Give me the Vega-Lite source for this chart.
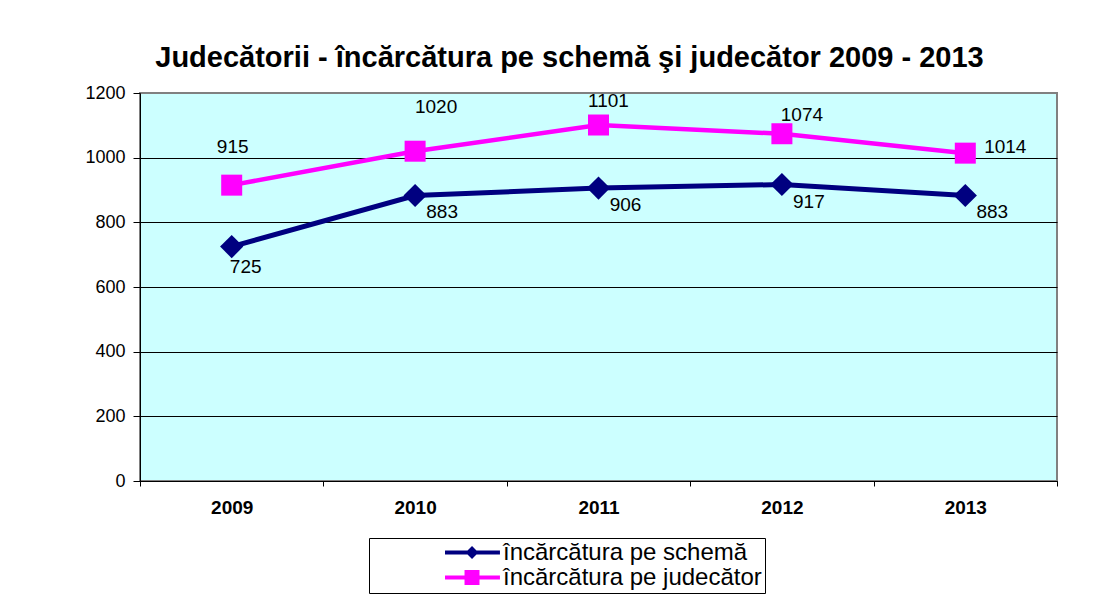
{
  "$schema": "https://vega.github.io/schema/vega-lite/v6.json",
  "autosize": "none",
  "width": 917,
  "height": 388,
  "padding": {"left": 140, "top": 93, "right": 58, "bottom": 117},
  "background": "white",
  "config": {
    "font": "Liberation Sans",
    "view": {"fill": "#CCFFFF", "stroke": "#808080", "strokeWidth": 2}
  },
  "title": {
    "text": "Judecătorii - încărcătura pe schemă şi judecător 2009 - 2013",
    "font": "Liberation Sans",
    "fontSize": 29,
    "fontWeight": "bold",
    "color": "black",
    "anchor": "middle",
    "frame": "group",
    "dx": -29,
    "baseline": "alphabetic",
    "offset": -12
  },
  "data": {
    "values": [
      {"year": "2009", "series": "încărcătura pe schemă", "value": 725},
      {"year": "2010", "series": "încărcătura pe schemă", "value": 883},
      {"year": "2011", "series": "încărcătura pe schemă", "value": 906},
      {"year": "2012", "series": "încărcătura pe schemă", "value": 917},
      {"year": "2013", "series": "încărcătura pe schemă", "value": 883},
      {"year": "2009", "series": "încărcătura pe judecător", "value": 915},
      {"year": "2010", "series": "încărcătura pe judecător", "value": 1020},
      {"year": "2011", "series": "încărcătura pe judecător", "value": 1101},
      {"year": "2012", "series": "încărcătura pe judecător", "value": 1074},
      {"year": "2013", "series": "încărcătura pe judecător", "value": 1014}
    ]
  },
  "encoding": {
    "x": {
      "field": "year",
      "type": "ordinal",
      "scale": {"type": "band", "paddingInner": 0, "paddingOuter": 0},
      "axis": {
        "title": null,
        "labelAngle": 0,
        "labelFont": "Liberation Sans",
        "labelFontSize": 19,
        "labelFontWeight": "bold",
        "labelColor": "black",
        "labelPadding": 12,
        "domainColor": "black",
        "domainWidth": 1,
        "tickColor": "black",
        "tickSize": 5,
        "tickBand": "extent",
        "grid": false
      }
    },
    "y": {
      "field": "value",
      "type": "quantitative",
      "scale": {"domain": [0, 1200], "nice": false, "zero": true},
      "axis": {
        "title": null,
        "format": "d",
        "values": [0, 200, 400, 600, 800, 1000, 1200],
        "labelFont": "Liberation Sans",
        "labelFontSize": 18,
        "labelColor": "black",
        "labelPadding": 8,
        "domainColor": "black",
        "domainWidth": 1,
        "tickColor": "black",
        "tickSize": 7,
        "grid": true,
        "gridColor": {"condition": {"test": "datum.value === 1200", "value": "#808080"}, "value": "black"},
        "gridWidth": 1,
        "gridOpacity": 1
      }
    }
  },
  "layer": [
    {
      "transform": [{"filter": "datum.series === 'încărcătura pe schemă'"}],
      "mark": {"type": "line", "color": "#000080", "strokeWidth": 5}
    },
    {
      "transform": [{"filter": "datum.series === 'încărcătura pe judecător'"}],
      "mark": {"type": "line", "color": "#FF00FF", "strokeWidth": 4.5}
    },
    {
      "transform": [{"filter": "datum.series === 'încărcătura pe schemă'"}],
      "mark": {"type": "point", "shape": "diamond", "filled": true, "color": "#000080", "opacity": 1, "size": 540}
    },
    {
      "transform": [{"filter": "datum.series === 'încărcătura pe judecător'"}],
      "mark": {"type": "point", "shape": "square", "filled": true, "color": "#FF00FF", "opacity": 1, "size": 441}
    },
    {
      "mark": {"type": "point", "filled": true, "opacity": 0},
      "encoding": {
        "color": {
          "field": "series",
          "type": "nominal",
          "scale": {"domain": ["încărcătura pe schemă", "încărcătura pe judecător"], "range": ["#000080", "#FF00FF"]},
          "legend": {
            "title": null,
            "orient": "none",
            "legendX": 229,
            "legendY": 445,
            "padding": 3,
            "strokeColor": "black",
            "fillColor": "white",
            "symbolSize": 16129,
            "symbolStrokeWidth": 0,
            "symbolOpacity": 1,
            "clipHeight": 23,
            "rowPadding": 0,
            "labelOffset": 4,
            "labelFont": "Liberation Sans",
            "labelFontSize": 24,
            "labelColor": "black",
            "labelLimit": 500
          }
        },
        "shape": {
          "field": "series",
          "type": "nominal",
          "scale": {
            "domain": ["încărcătura pe schemă", "încărcătura pe judecător"],
            "range": [
              "M0.15,-0.0315 L1.015,-0.0315 L1.015,0.0315 L0.15,0.0315 Z M0.575,-0.102 L0.677,0 L0.575,0.102 L0.473,0 Z",
              "M0.15,-0.0315 L1.015,-0.0315 L1.015,0.0315 L0.15,0.0315 Z M0.457,-0.118 L0.693,-0.118 L0.693,0.118 L0.457,0.118 Z"
            ]
          },
          "legend": {
            "title": null,
            "orient": "none",
            "legendX": 229,
            "legendY": 445,
            "padding": 3,
            "strokeColor": "black",
            "fillColor": "white",
            "symbolSize": 16129,
            "symbolStrokeWidth": 0,
            "symbolOpacity": 1,
            "clipHeight": 23,
            "rowPadding": 0,
            "labelOffset": 4,
            "labelFont": "Liberation Sans",
            "labelFontSize": 24,
            "labelColor": "black",
            "labelLimit": 500
          }
        }
      }
    },
    {
      "transform": [{"filter": "datum.series === 'încărcătura pe judecător' && datum.year === '2009'"}],
      "mark": {"type": "text", "fontSize": 19, "color": "black", "align": "center", "baseline": "middle", "dx": 1, "dy": -38},
      "encoding": {"text": {"field": "value", "type": "quantitative"}}
    },
    {
      "transform": [{"filter": "datum.series === 'încărcătura pe judecător' && datum.year === '2010'"}],
      "mark": {"type": "text", "fontSize": 19, "color": "black", "align": "center", "baseline": "middle", "dx": 21, "dy": -44},
      "encoding": {"text": {"field": "value", "type": "quantitative"}}
    },
    {
      "transform": [{"filter": "datum.series === 'încărcătura pe judecător' && datum.year === '2011'"}],
      "mark": {"type": "text", "fontSize": 19, "color": "black", "align": "center", "baseline": "middle", "dx": 10, "dy": -24},
      "encoding": {"text": {"field": "value", "type": "quantitative"}}
    },
    {
      "transform": [{"filter": "datum.series === 'încărcătura pe judecător' && datum.year === '2012'"}],
      "mark": {"type": "text", "fontSize": 19, "color": "black", "align": "center", "baseline": "middle", "dx": 20, "dy": -19},
      "encoding": {"text": {"field": "value", "type": "quantitative"}}
    },
    {
      "transform": [{"filter": "datum.series === 'încărcătura pe judecător' && datum.year === '2013'"}],
      "mark": {"type": "text", "fontSize": 19, "color": "black", "align": "center", "baseline": "middle", "dx": 40, "dy": -6},
      "encoding": {"text": {"field": "value", "type": "quantitative"}}
    },
    {
      "transform": [{"filter": "datum.series === 'încărcătura pe schemă' && datum.year === '2009'"}],
      "mark": {"type": "text", "fontSize": 19, "color": "black", "align": "center", "baseline": "middle", "dx": 14, "dy": 20},
      "encoding": {"text": {"field": "value", "type": "quantitative"}}
    },
    {
      "transform": [{"filter": "datum.series === 'încărcătura pe schemă' && datum.year !== '2009'"}],
      "mark": {"type": "text", "fontSize": 19, "color": "black", "align": "center", "baseline": "middle", "dx": 27, "dy": 17},
      "encoding": {"text": {"field": "value", "type": "quantitative"}}
    }
  ]
}
